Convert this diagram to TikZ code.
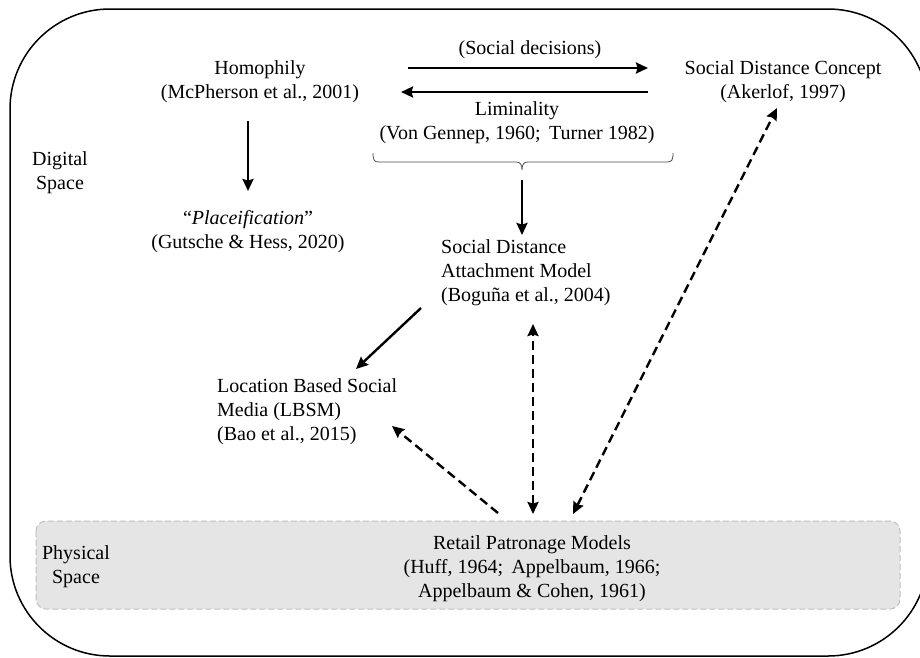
\documentclass[tikz,border=0pt]{standalone}
\usepackage{fontspec}
\setmainfont{Liberation Serif}
\usetikzlibrary{arrows.meta}
\begin{document}
\begin{tikzpicture}[x=1pt,y=-1pt,
  txt/.style={inner sep=0pt,font=\fontsize{20}{24}\selectfont},
  arr/.style={line width=2.4pt,-{Stealth[length=12pt,width=11pt,inset=1.5pt]}},
  darr/.style={line width=2.4pt,dash pattern=on 9pt off 5pt,-{Stealth[length=12pt,width=11pt,inset=1.5pt]}},
  ddarr/.style={line width=2.4pt,dash pattern=on 9pt off 5pt,{Stealth[length=12pt,width=11pt,inset=1.5pt]}-{Stealth[length=12pt,width=11pt,inset=1.5pt]}},
  zonebox/.style={fill=black!10,draw=black!25,line width=1pt,dash pattern=on 6pt off 3pt,rounded corners=10pt}]
\useasboundingbox (0,0) rectangle (920,657);
\begin{scope}
\clip (0,0) rectangle (920,657);
\draw[line width=1.5pt,rounded corners=100pt] (10,9) rectangle (928,656);
\end{scope}
\draw[zonebox] (36,521) rectangle (900,609);

\node[txt,align=center] (homo) at (260,82) {Homophily\\(McPherson et al., 2001)};
\node[txt,align=center] (dig) at (60,173) {Digital\\Space};
\node[txt,align=center] (place) at (248,232) {``\textit{Placeification}''\\(Gutsche \& Hess, 2020)};
\node[txt] (socdec) at (530,50) {(Social decisions)};
\node[txt,align=center] (lim) at (517,123) {Liminality\\(Von Gennep, 1960;\, Turner 1982)};
\node[txt,align=center] (sdc) at (783,82) {Social Distance Concept\\(Akerlof, 1997)};
\node[txt,align=left,anchor=west] (sdam) at (441,273) {Social Distance\\Attachment Model\\(Bogu\~na et al., 2004)};
\node[txt,align=left,anchor=west] (lbsm) at (217,412) {Location Based Social\\Media (LBSM)\\(Bao et al., 2015)};
\node[txt,align=center] (phys) at (76,567) {Physical\\Space};
\node[txt,align=center] (retail) at (532,569) {Retail Patronage Models\\(Huff, 1964;\, Appelbaum, 1966;\\Appelbaum \& Cohen, 1961)};

% brace
\draw[line width=0.8pt,black!70] (373,153) .. controls (373,160) and (374,162) .. (379,162) -- (516,162) .. controls (520,162) and (522,164) .. (522,170) .. controls (522,164) and (524,162) .. (528,162) -- (667,162) .. controls (672,162) and (673,160) .. (673,153);
\coordinate (bracetip) at (522,180);

\coordinate (h1) at (248,121);
\coordinate (p1) at (248,191);
\draw[arr] (h1) -- (p1);

\coordinate (r1) at (408,68);
\coordinate (r2) at (648,68);
\draw[arr] (r1) -- (r2);
\coordinate (l1) at (648,92);
\coordinate (l2) at (401,92);
\draw[arr] (l1) -- (l2);

\coordinate (s1) at (522,235);
\draw[arr] (bracetip) -- (s1);

\coordinate (sb) at (421,308);
\coordinate (lb) at (356,369);
\draw[arr] (sb) -- (lb);

\coordinate (rt1) at (498,513);
\coordinate (lbh) at (392,426);
\draw[darr] (rt1) -- (lbh);

\coordinate (rt2) at (533,514);
\coordinate (sdb) at (533,324);
\draw[ddarr] (rt2) -- (sdb);

\coordinate (rt3) at (573,514);
\coordinate (sdcb) at (777,108);
\draw[ddarr] (rt3) -- (sdcb);
\end{tikzpicture}
\end{document}
